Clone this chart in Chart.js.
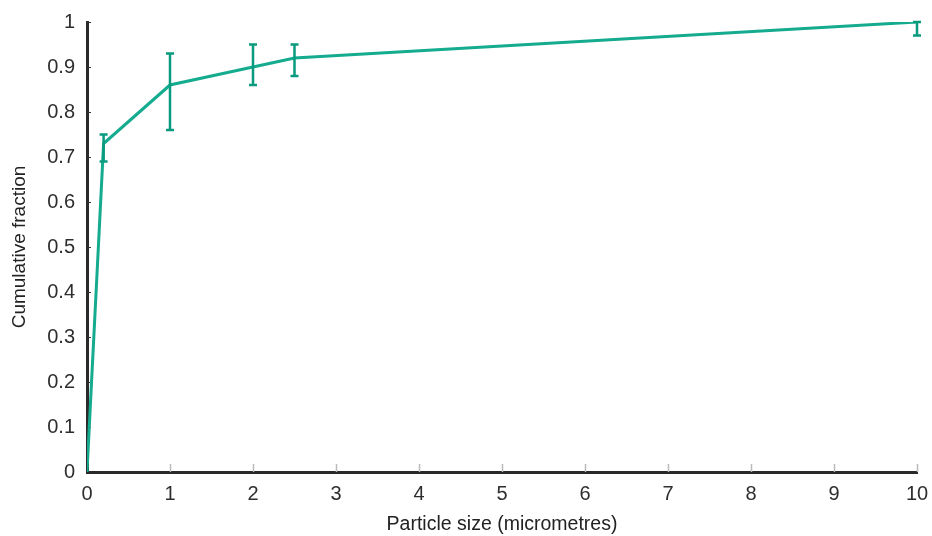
<!DOCTYPE html>
<html><head><meta charset="utf-8">
<script src="https://cdn.jsdelivr.net/npm/chart.js@4"></script>
<style>html,body{margin:0;padding:0;background:#fff}#wrap{width:932px;height:536px;position:relative}</style>
</head><body><div id="wrap"><canvas id="c" width="932" height="536"></canvas></div>
<script>
const sizes = [0, 0.2, 1, 2, 2.5, 10];
const fractions = [0, 0.73, 0.86, 0.90, 0.92, 1.0];
const errLow = [null, 0.69, 0.76, 0.86, 0.88, 0.97];
const errHigh = [null, 0.75, 0.93, 0.95, 0.95, 1.0];
const xTicks = [0,1,2,3,4,5,6,7,8,9,10];
const yTicks = [0,0.1,0.2,0.3,0.4,0.5,0.6,0.7,0.8,0.9,1];

const lineColor = '#14ab8e';
const errColor = '#0a9b7f';

const errorBars = {
  id: 'errorBars',
  afterDatasetsDraw(chart) {
    const ctx = chart.ctx, xs = chart.scales.x, ys = chart.scales.y;
    ctx.save();
    ctx.strokeStyle = errColor; ctx.lineWidth = 2.5; ctx.lineCap = 'butt';
    sizes.forEach((s, i) => {
      if (errLow[i] == null) return;
      const px = xs.getPixelForValue(s);
      const y1 = ys.getPixelForValue(errLow[i]), y2 = ys.getPixelForValue(errHigh[i]);
      ctx.beginPath(); ctx.moveTo(px, y1); ctx.lineTo(px, y2);
      ctx.moveTo(px-4, y1); ctx.lineTo(px+4, y1);
      ctx.moveTo(px-4, y2); ctx.lineTo(px+4, y2);
      ctx.stroke();
    });
    ctx.restore();
  }
};
const inwardTicks = {
  id: 'inwardTicks',
  beforeDatasetsDraw(chart) {
    const ctx = chart.ctx, xs = chart.scales.x, ys = chart.scales.y, a = chart.chartArea;
    ctx.save();
    ctx.strokeStyle = '#bbbbbb'; ctx.lineWidth = 1.5;
    xTicks.forEach(v => { if (v === 0) return; const px = Math.round(xs.getPixelForValue(v)) + 0.5;
      ctx.beginPath(); ctx.moveTo(px, a.bottom); ctx.lineTo(px, a.bottom - 8); ctx.stroke(); });
    ctx.strokeStyle = '#333333'; ctx.lineWidth = 1;
    yTicks.forEach(v => { if (v === 0) return; const py = Math.round(ys.getPixelForValue(v)) + 0.5;
      ctx.beginPath(); ctx.moveTo(a.left, py); ctx.lineTo(a.left + 4, py); ctx.stroke(); });
    ctx.restore();
  }
};

new Chart(document.getElementById('c'), {
  type: 'line',
  data: { datasets: [{ data: sizes.map((s, i) => ({x: s, y: fractions[i]})),
    borderColor: lineColor, borderWidth: 3, pointRadius: 0, fill: false, tension: 0 }] },
  options: {
    responsive: false, animation: false,
    layout: { padding: { top: 22, right: 15, left: 0, bottom: 0 } },
    plugins: { legend: { display: false }, tooltip: { enabled: false } },
    scales: {
      x: { type: 'linear', min: 0, max: 10,
        afterBuildTicks: s => { s.ticks = xTicks.map(v => ({value: v})); },
        afterFit: s => { s.height = 64; s.paddingRight = 0; s.paddingLeft = 0; },
        grid: { display: true, drawOnChartArea: false, drawTicks: false },
        border: { display: true, color: '#2a2a2a', width: 3 },
        ticks: { color: '#2e2e2e', font: { family: 'Liberation Sans, Arial', size: 20 }, padding: 10, maxRotation: 0, callback: v => String(v) },
        title: { display: true, text: 'Particle size (micrometres)', color: '#222', font: { family: 'Liberation Sans, Arial', size: 19.5 }, padding: { top: 0, bottom: 0 } } },
      y: { type: 'linear', min: 0, max: 1,
        afterBuildTicks: s => { s.ticks = yTicks.map(v => ({value: v})); },
        afterFit: s => { s.width = 87; s.paddingTop = 0; s.paddingBottom = 0; },
        grid: { display: true, drawOnChartArea: false, drawTicks: false },
        border: { display: true, color: '#2a2a2a', width: 3 },
        ticks: { color: '#2e2e2e', font: { family: 'Liberation Sans, Arial', size: 20 }, padding: 12, callback: v => String(v) },
        title: { display: true, text: 'Cumulative fraction', color: '#222', font: { family: 'Liberation Sans, Arial', size: 19 }, padding: { top: 8, bottom: 0 } } }
    }
  },
  plugins: [inwardTicks, errorBars]
});
</script></body></html>
